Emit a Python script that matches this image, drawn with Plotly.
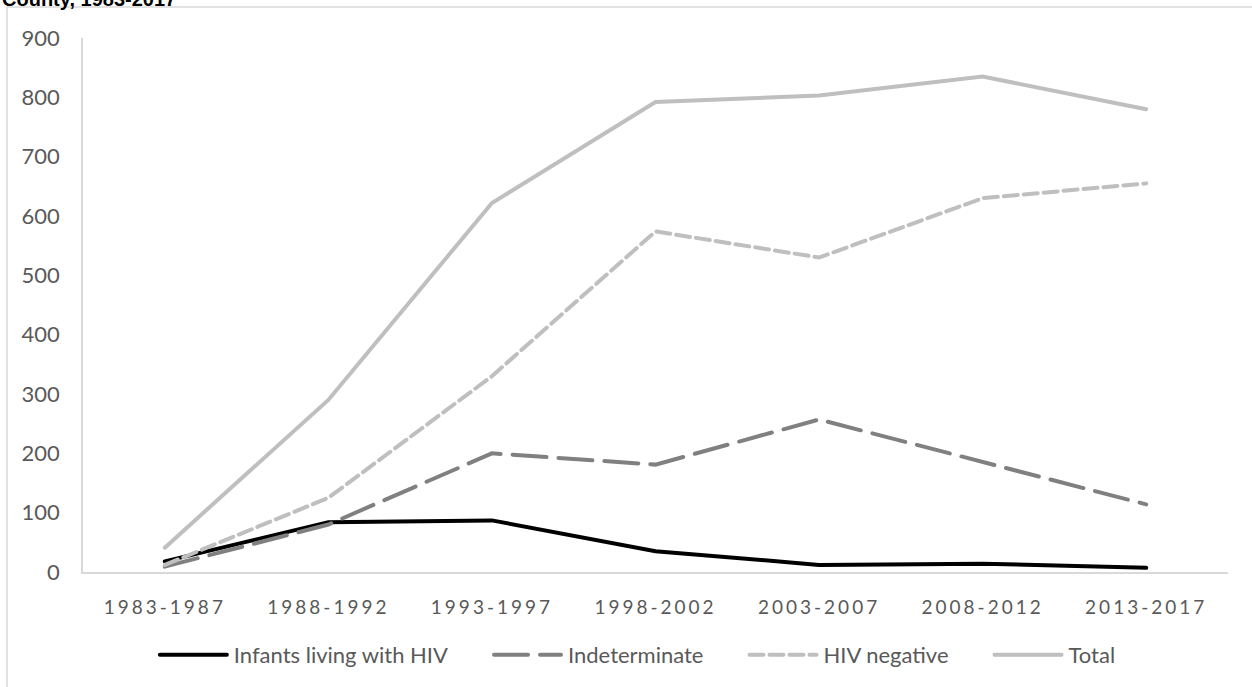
import plotly.graph_objects as go

# ---- data ----
periods = ["1983-1987", "1988-1992", "1993-1997", "1998-2002", "2003-2007", "2008-2012", "2013-2017"]
infants_hiv = [18, 84, 87, 35, 12, 14, 7]
indeterminate = [9, 80, 200, 181, 257, 186, 114]
hiv_negative = [12, 125, 330, 574, 530, 630, 655]
total = [41, 290, 622, 792, 803, 835, 780]
y_ticks = [0, 100, 200, 300, 400, 500, 600, 700, 800, 900]

W, H = 1252, 687
ML, MR, MT, MB = 83, 24, 38, 114
pw = W - ML - MR
ph = H - MT - MB

def px_x(p):
    return (p - ML) / pw

def px_y(p):
    return (H - MB - p) / ph

font_fam = "Lato, 'Liberation Sans', Arial, sans-serif"
txt_col = "#595959"
axis_col = "#d9d9d9"

fig = go.Figure()
fig.add_trace(go.Scatter(x=periods, y=infants_hiv, mode="lines", name="Infants living with HIV",
                         line=dict(color="#000000", width=4)))
fig.add_trace(go.Scatter(x=periods, y=indeterminate, mode="lines", name="Indeterminate",
                         line=dict(color="#808080", width=4, dash="34px,12px")))
fig.add_trace(go.Scatter(x=periods, y=hiv_negative, mode="lines", name="HIV negative",
                         line=dict(color="#bfbfbf", width=4, dash="14px,6px")))
fig.add_trace(go.Scatter(x=periods, y=total, mode="lines", name="Total",
                         line=dict(color="#bfbfbf", width=4)))

# chart frame (partially cropped)
fig.add_shape(type="line", xref="paper", yref="paper",
              x0=px_x(7), x1=px_x(W + 20), y0=px_y(7), y1=px_y(7),
              line=dict(color=axis_col, width=1.5))
fig.add_shape(type="line", xref="paper", yref="paper",
              x0=px_x(7), x1=px_x(7), y0=px_y(7), y1=px_y(H + 20),
              line=dict(color=axis_col, width=1.5))

fig.add_annotation(text="<b>County, 1983-2017</b>", xref="paper", yref="paper",
                   x=px_x(0), y=px_y(-1.5), xanchor="left", yanchor="middle",
                   showarrow=False, font=dict(family="'Liberation Sans', Arial", size=20, color="#000000"))

fig.update_layout(
    width=W, height=H,
    margin=dict(l=ML, r=MR, t=MT, b=MB),
    paper_bgcolor="white", plot_bgcolor="white",
    font=dict(family=font_fam, color=txt_col, size=22),
    showlegend=True,
    legend=dict(orientation="h", x=px_x(636), xanchor="center", y=px_y(655), yanchor="middle",
                itemwidth=71,
                font=dict(size=22, color=txt_col, family=font_fam), bgcolor="rgba(0,0,0,0)"),
    xaxis=dict(type="category", range=[-0.5, 6.5], showgrid=False, zeroline=False,
               showline=True, linecolor=axis_col, linewidth=1.5, ticks="",
               tickfont=dict(size=19, color=txt_col, family=font_fam), ticklabelstandoff=17),
    yaxis=dict(range=[0, 900], tickvals=y_ticks, showgrid=False, zeroline=False,
               showline=True, linecolor=axis_col, linewidth=1.5, ticks="",
               tickfont=dict(size=22, color=txt_col, family=font_fam), ticklabelstandoff=17),
)

post = """
document.body.style.margin='0';
document.querySelectorAll('.xtick text').forEach(function(t){t.style.letterSpacing='3px';});
document.querySelectorAll('.scatterlayer path.js-line').forEach(function(p){p.style.strokeLinecap='round';});
document.querySelectorAll('.legendlines path.js-line').forEach(function(p){p.setAttribute('d','M7,0h67');p.style.strokeLinecap='round';});
document.querySelectorAll('.legend .scrollbox, .legend').forEach(function(s){s.removeAttribute('clip-path');});
var items = Array.prototype.slice.call(document.querySelectorAll('.legend g.traces'));
var widths = items.map(function(g){return g.querySelector('text.legendtext').getBoundingClientRect().width;});
var sum = widths.reduce(function(a,b){return a+b;},0);
var totalW = 77 + sum + 120*(items.length-1);
var textLeft = 636 - totalW/2 + 77;
items.forEach(function(g,i){
  var cur = g.querySelector('text.legendtext').getBoundingClientRect().left;
  var dx = textLeft - cur;
  g.setAttribute('transform', (g.getAttribute('transform')||'') + ' translate(' + dx + ',0)');
  textLeft += widths[i] + 120;
});
"""
fig.write_html("out.html", post_script=post, config={"displayModeBar": False})
